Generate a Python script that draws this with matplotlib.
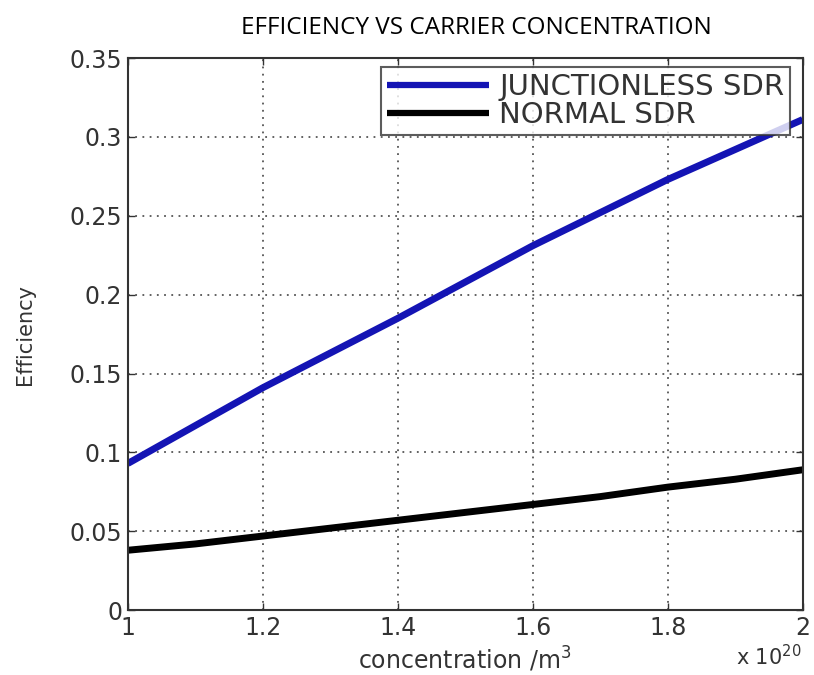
import matplotlib
matplotlib.use("Agg")
import matplotlib.pyplot as plt
import numpy as np

concentration = [1.0, 1.1, 1.2, 1.3, 1.4, 1.5, 1.6, 1.7, 1.8, 1.9, 2.0]
junctionless = [0.093, 0.117, 0.141, 0.163, 0.185, 0.208, 0.231, 0.252, 0.273, 0.292, 0.311]
normal = [0.038, 0.042, 0.047, 0.052, 0.057, 0.062, 0.067, 0.072, 0.078, 0.083, 0.089]
xticks = [1, 1.2, 1.4, 1.6, 1.8, 2]
xtick_labels = ["1", "1.2", "1.4", "1.6", "1.8", "2"]
yticks = [0, 0.05, 0.1, 0.15, 0.2, 0.25, 0.3, 0.35]
ytick_labels = ["0", "0.05", "0.1", "0.15", "0.2", "0.25", "0.3", "0.35"]

fig = plt.figure(figsize=(8.14, 6.75), dpi=100)
ax = fig.add_axes([0.157, 0.096, 0.829, 0.818])
ax.plot(concentration, junctionless, color="#1414b4", lw=5, label="JUNCTIONLESS SDR", solid_capstyle="butt")
ax.plot(concentration, normal, color="black", lw=5, label="NORMAL SDR", solid_capstyle="butt")
ax.set_xlim(1, 2)
ax.set_ylim(0, 0.35)
ax.set_xticks(xticks)
ax.set_xticklabels(xtick_labels)
ax.set_yticks(yticks)
ax.set_yticklabels(ytick_labels)
ax.tick_params(direction="in", length=5, width=1, labelsize=17, colors="#333333", top=True, right=True,
               labelcolor="#333333", pad=4)
for lbl in ax.get_xticklabels() + ax.get_yticklabels():
    lbl.set_family("DejaVu Sans")
ax.grid(True, color="#555555", linestyle=(0, (1, 3)), linewidth=1.3)
for s in ax.spines.values():
    s.set_linewidth(1.5)
    s.set_color("#333333")
ax.set_xlabel("concentration /m$^3$", fontsize=17, family="DejaVu Sans", color="#333333", labelpad=4)
ax.set_ylabel("Efficiency", fontsize=15, family="DejaVu Sans", color="#333333")
ax.yaxis.set_label_coords(-0.137, 0.5)
fig.text(0.985, 0.008, r"x 10$^{20}$", ha="right", va="bottom", fontsize=15, family="DejaVu Sans", color="#333333")
fig.text(0.585, 0.958, "EFFICIENCY VS CARRIER CONCENTRATION", ha="center", va="center", fontsize=17.5, family="Open Sans", color="black")
leg = ax.legend(loc="upper right", bbox_to_anchor=(0.982, 0.984), frameon=True, fancybox=False,
                edgecolor="#333333", handlelength=3.5, handletextpad=0.35, borderpad=0.2, labelspacing=0.0,
                borderaxespad=0, prop={"family": "DejaVu Sans", "size": 21})
leg.get_frame().set_linewidth(1.5)
for line in leg.get_lines():
    line.set_linewidth(4.5)
for t in leg.get_texts():
    t.set_color("#333333")
fig.savefig("out.png", dpi=100, facecolor="white")
